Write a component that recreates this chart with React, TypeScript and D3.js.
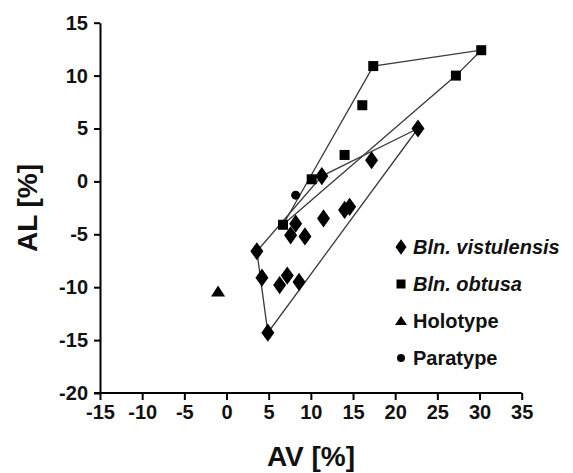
import React, { useRef, useEffect } from 'react';
import * as d3 from 'd3';

// AV [%] / AL [%] values
const vistulensisAV = [22.7, 17.2, 11.3, 8.2, 7.6, 9.3, 11.5, 14.0, 14.6, 3.6, 4.2, 7.2, 6.3, 8.6, 4.9];
const vistulensisAL = [5.0, 2.0, 0.5, -4.0, -5.1, -5.2, -3.5, -2.7, -2.4, -6.6, -9.1, -8.9, -9.8, -9.5, -14.3];
const obtusaAV = [30.2, 27.2, 17.4, 16.1, 14.0, 10.1, 6.7];
const obtusaAL = [12.4, 10.0, 10.9, 7.2, 2.5, 0.2, -4.1];
const holotypeAV = [-1.0];
const holotypeAL = [-10.4];
const paratypeAV = [8.2];
const paratypeAL = [-1.3];

const xTicks = [-15, -10, -5, 0, 5, 10, 15, 20, 25, 30, 35];
const yTicks = [-20, -15, -10, -5, 0, 5, 10, 15];
const legendLabels = ['Bln. vistulensis', 'Bln. obtusa', 'Holotype', 'Paratype'];

const zip = (xs, ys) => xs.map((x, i) => [x, ys[i]]);

const ScatterHull = () => {
  const ref = useRef();

  useEffect(() => {
    const svg = d3.select(ref.current);
    svg.selectAll('*').remove();
    const font = 'Liberation Sans, Arial, sans-serif';

    const x = d3.scaleLinear().domain([-15, 35]).range([100, 521.7]);
    const y = d3.scaleLinear().domain([-20, 15]).range([393, 22.7]);

    const vist = zip(vistulensisAV, vistulensisAL);
    const obt = zip(obtusaAV, obtusaAL);

    // convex hulls around the two species
    const line = d3.line().x((d) => x(d[0])).y((d) => y(d[1]));
    [vist, obt].forEach((pts) => {
      const hull = d3.polygonHull(pts);
      svg
        .append('path')
        .attr('d', line(hull) + 'Z')
        .attr('fill', 'none')
        .attr('stroke', '#3a3a3a')
        .attr('stroke-width', 1.3);
    });

    // axes (plain hyphen minus like the original)
    const fmt = (d) => String(d);
    const xAxis = d3.axisBottom(x).tickValues(xTicks).tickFormat(fmt).tickSize(7).tickPadding(5).tickSizeOuter(0);
    const gx = svg.append('g').attr('transform', 'translate(0,393)').call(xAxis);
    gx.select('.domain').attr('d', 'M94,0H521.7').attr('stroke-width', 2);
    gx.selectAll('.tick line').attr('stroke-width', 2);
    gx.selectAll('text')
      .attr('font-family', font)
      .attr('font-weight', 'bold')
      .attr('font-size', 20)
      .attr('fill', '#111');

    const yAxis = d3.axisLeft(y).tickValues(yTicks).tickFormat(fmt).tickSize(6).tickPadding(6).tickSizeOuter(0);
    const gy = svg.append('g').attr('transform', 'translate(100,0)').call(yAxis);
    gy.select('.domain').attr('stroke-width', 2);
    gy.selectAll('.tick line').attr('stroke-width', 2);
    gy.selectAll('text')
      .attr('font-family', font)
      .attr('font-weight', 'bold')
      .attr('font-size', 20)
      .attr('fill', '#111');

    // markers
    const diamond = (s) => `M0,${-s * 0.7}L${s * 0.5},0L0,${s * 0.7}L${-s * 0.5},0Z`;
    const marks = svg.append('g').attr('fill', '#000');
    vist.forEach((d) => {
      marks.append('path').attr('d', diamond(13)).attr('transform', `translate(${x(d[0])},${y(d[1])})`);
    });
    obt.forEach((d) => {
      marks.append('rect').attr('x', x(d[0]) - 5).attr('y', y(d[1]) - 5).attr('width', 10).attr('height', 10);
    });
    zip(holotypeAV, holotypeAL).forEach((d) => {
      marks.append('path').attr('d', 'M0,-6L7,5L-7,5Z').attr('transform', `translate(${x(d[0])},${y(d[1])})`);
    });
    zip(paratypeAV, paratypeAL).forEach((d) => {
      marks.append('circle').attr('cx', x(d[0])).attr('cy', y(d[1])).attr('r', 4.5);
    });

    // legend
    const lg = svg.append('g').attr('transform', 'translate(401,247)');
    const symbols = [
      (g) => g.append('path').attr('d', diamond(11)),
      (g) => g.append('rect').attr('x', -4.5).attr('y', -4.5).attr('width', 9).attr('height', 9),
      (g) => g.append('path').attr('d', 'M0,-5L6,4L-6,4Z'),
      (g) => g.append('circle').attr('r', 4),
    ];
    legendLabels.forEach((label, i) => {
      const row = lg.append('g').attr('transform', `translate(0,${i * 37})`);
      symbols[i](row).attr('fill', '#000');
      row
        .append('text')
        .attr('x', 12)
        .attr('dy', '0.36em')
        .attr('font-family', font)
        .attr('font-weight', 'bold')
        .attr('font-style', i < 2 ? 'italic' : 'normal')
        .attr('font-size', 20)
        .attr('fill', '#111')
        .text(label);
    });

    // axis titles
    svg
      .append('text')
      .attr('x', 311)
      .attr('y', 466)
      .attr('text-anchor', 'middle')
      .attr('font-family', font)
      .attr('font-weight', 'bold')
      .attr('font-size', 28)
      .attr('fill', '#111')
      .text('AV [%]');
    svg
      .append('text')
      .attr('transform', 'translate(37,208) rotate(-90)')
      .attr('text-anchor', 'middle')
      .attr('font-family', font)
      .attr('font-weight', 'bold')
      .attr('font-size', 28)
      .attr('fill', '#111')
      .text('AL [%]');
  }, []);

  return (
    <svg
      ref={ref}
      width={573}
      height={473}
      style={{ position: 'absolute', left: 0, top: 0, background: '#fff' }}
    ></svg>
  );
};

export default function App() {
  return <ScatterHull />;
}
